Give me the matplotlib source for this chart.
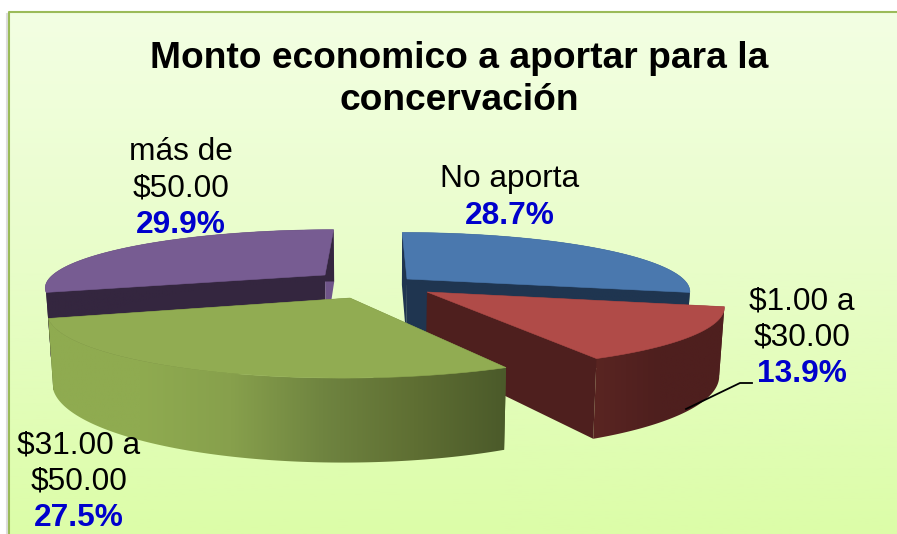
"""Exploded 3D-look pie: monto economico a aportar."""

import matplotlib

matplotlib.use("Agg")
import matplotlib.pyplot as plt
import numpy as np
from matplotlib.colors import to_rgb
from matplotlib.patches import Polygon

title_lines = ["Monto economico a aportar para la", "concervación"]
categories = ["No aporta", "$1.00 a\n$30.00", "$31.00 a\n$50.00", "más de\n$50.00"]
values = [28.7, 13.9, 27.5, 29.9]

# layout, in reference pixels
W, H = 897, 534
CX, CY = 378.0, 285.0
A, B, K = 282.0, 58.0, 0.2
WALL = 64.0
apex = [(407, 279), (427, 292), (350, 298), (325, 275)]
label_xy = [(510, 179.5), (802, 301), (79, 445), (181, 152)]
top_colors = ["#4a78ae", "#b04b48", "#91ac52", "#775c92"]
cut_colors = ["#1f3550", "#4e1f1e", "#4e5c2b", "#34263f"]
back_colors = ["#1f3550", "#4e1f1e", "#4e5c2b", "#6f5589"]
# rim shading, left to right on screen
rim_stops = [
    ["#1f3550", "#1f3550"],
    ["#5a2522", "#4e1f1e", "#4e1f1e"],
    ["#8fab50", "#8fab50", "#87a04c", "#6f8440", "#5f6f33", "#4b5a2a"],
    ["#34263f", "#34263f"],
]


def project(u, v):
    f = 1.0 / (1.0 - K * v)
    return CX + A * u * f, CY + B * v * f, f


def unproject(x, y):
    w = y - CY
    v = w / (B + K * w)
    f = 1.0 / (1.0 - K * v)
    return (x - CX) / (A * f), v


def lower(x, y, f):
    return CX + (x - CX) * 0.985, y + WALL * f


def ramp(stops, n):
    rgb = np.array([to_rgb(c) for c in stops])
    pos = np.linspace(0, 1, len(stops))
    t = np.linspace(0, 1, n)
    return np.column_stack([np.interp(t, pos, rgb[:, i]) for i in range(3)])


def draw_slice(ax, start, stop, tip, top, cut, back, stops):
    u0, v0 = unproject(*tip)
    theta = np.radians(np.linspace(start, stop, 121))
    x, y, f = project(u0 + np.sin(theta), v0 - np.cos(theta))
    bx, by = lower(x, y, f)
    tx, ty, tf = project(u0, v0)
    tbx, tby = lower(tx, ty, tf)

    # the two cut faces come first, the rim and the top go over them
    ax.add_patch(Polygon([(x[0], y[0]), (tx, ty), (tbx, tby), (bx[0], by[0])],
                         fc=cut if start > 0 else back, ec="none"))
    ax.add_patch(Polygon([(x[-1], y[-1]), (tx, ty), (tbx, tby), (bx[-1], by[-1])],
                         fc=back if stop >= 360 else cut, ec="none"))

    # rim: one horizontal gradient clipped to the curved wall
    rim = Polygon(np.vstack([np.column_stack([x, y]),
                             np.column_stack([bx, by])[::-1]]),
                  fc="none", ec="none", transform=ax.transData)
    ax.add_patch(rim)
    img = ax.imshow(ramp(stops, 256).reshape(1, 256, 3),
                    extent=(min(x.min(), bx.min()), max(x.max(), bx.max()),
                            max(y.max(), by.max()), min(y.min(), by.min())),
                    aspect="auto", zorder=1, interpolation="bilinear")
    img.set_clip_path(rim)
    img.set_zorder(ax.patches[-1].get_zorder())
    ax.add_patch(Polygon(np.vstack([[(tx, ty)], np.column_stack([x, y])]),
                         fc=top, ec=top, lw=0.4))


def main() -> None:
    plt.rcParams["font.family"] = ["Liberation Sans", "DejaVu Sans"]
    fig = plt.figure(figsize=(W / 100, H / 100), dpi=100, facecolor="white")
    ax = fig.add_axes([0, 0, 1, 1])
    ax.axis("off")

    grad = ramp(["#f3ffe3", "#e8fdc8", "#dcfda8"], 256).reshape(256, 1, 3)
    ax.imshow(grad, extent=(9, W, H, 12), aspect="auto", zorder=0)
    ax.plot([7, 7], [14, H], color="#dddddd", lw=1.5, zorder=0.5)
    ax.plot([9, 9, W], [H, 12, 12], color="#9bbb59", lw=1.5, zorder=0.5)

    bounds = np.concatenate([[0], np.cumsum(values)]) / np.sum(values) * 360
    for i in [0, 3, 1, 2]:
        draw_slice(ax, bounds[i], bounds[i + 1], apex[i], top_colors[i],
                   cut_colors[i], back_colors[i], rim_stops[i])
    ax.set_xlim(0, W)
    ax.set_ylim(H, 0)

    ax.plot([686, 740, 752], [409, 383, 383], color="black", lw=1.3, zorder=3)

    for j, line in enumerate(title_lines):
        ax.text(459, 59 + 41 * j, line, ha="center", va="center", fontsize=26.7,
                fontweight="bold", color="black", zorder=5)
    for name, val, (x, y) in zip(categories, values, label_xy):
        lines = name.split("\n")
        for j, line in enumerate(lines):
            ax.text(x, y + 36.7 * j, line, ha="center", va="center", fontsize=22.8,
                    color="black", zorder=5)
        ax.text(x, y + 36.7 * len(lines), f"{val:.1f}%", ha="center", va="center",
                fontsize=22.8, fontweight="bold", color="#0000cc", zorder=5)

    fig.savefig("out.png", dpi=100)


if __name__ == "__main__":
    main()
